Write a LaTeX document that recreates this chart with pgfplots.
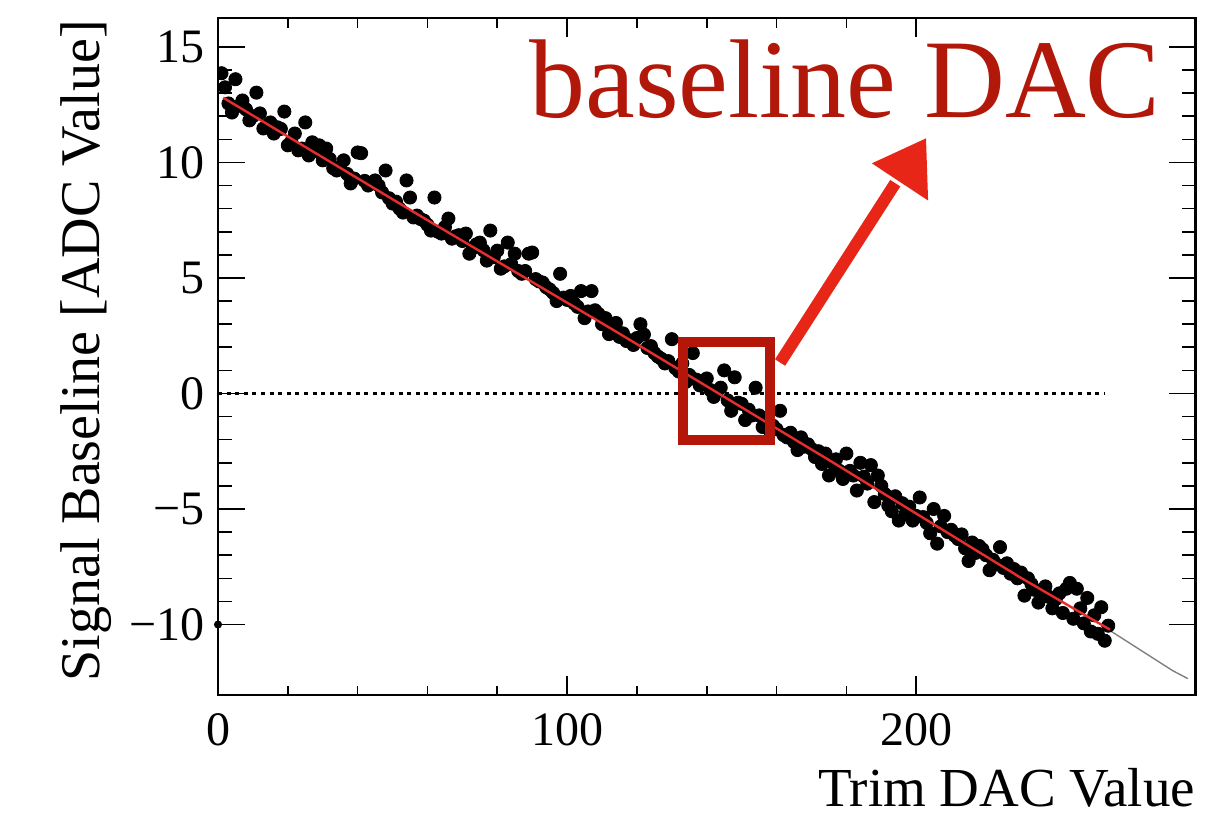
\documentclass[border=0pt]{standalone}
\usepackage{fontspec}
\setmainfont{Liberation Serif}
\usepackage{pgfplots}
\pgfplotsset{compat=1.18}
\definecolor{txtred}{RGB}{178,24,10}
\definecolor{boxred}{RGB}{180,22,10}
\definecolor{arrred}{RGB}{232,38,24}
\definecolor{fitred}{RGB}{232,45,45}
\pgfplotsset{
  rootframe/.style={
    scale only axis, width=488.75pt, height=338.5pt,
    xmin=0, xmax=280, ymin=-13.05, ymax=16.25,
    tick align=inside,
    axis line style={line width=1.1pt},
    tick style={black, line width=0.8pt},
    ticklabel style={font=\fontsize{24}{26}\selectfont},
    /pgf/number format/assume math mode=true,
  }
}
\begin{document}
\begin{tikzpicture}
% frame with y ticks (longer ticks, as in the reference)
\begin{axis}[rootframe,
  xtick=\empty,
  ytick={-10,-5,0,5,10,15}, yticklabels={−10,−5,0,5,10,15}, minor y tick num=4,
  major tick length=13.5pt, minor tick length=7pt,
  yticklabel style={anchor=east, inner sep=0pt, xshift=-6.5pt},
  clip=false,
]
\addplot[only marks, mark=*, mark size=1.8pt, black] coordinates {(0,-10)};
\end{axis}
\begin{axis}[rootframe,
  ytick=\empty,
  xtick={0,100,200}, minor x tick num=4,
  major tick length=9.5pt, minor tick length=4.75pt,
  xticklabel style={anchor=base, yshift=-25pt},
  clip marker paths=true,
]
\coordinate (ll) at (rel axis cs:0,0);
\coordinate (lr) at (rel axis cs:1,0);
\coordinate (ul) at (rel axis cs:0,1);
\coordinate (ur) at (rel axis cs:1,1);
% dotted zero line
\addplot[black, line width=1.3pt, dash pattern=on 2pt off 2.3pt] coordinates {(0,0) (254,0)};
% grey continuation line
\addplot[gray, line width=0.7pt] coordinates {(255.5,-10.26) (273.5,-12.0) (277.8,-12.34)};
% data
\addplot[only marks, mark=*, mark size=3.3pt, black] table {
x y
1 13.86
2 13.25
3 12.55
4 12.16
5 13.6
6 12.45
7 12.68
8 12.3
9 11.82
10 12.0
11 13.02
12 12.12
13 11.47
14 11.6
15 11.73
16 11.25
17 11.52
18 11.45
19 12.2
20 10.74
21 10.9
22 11.25
23 10.52
24 10.6
25 11.73
26 10.3
27 10.87
28 10.5
29 10.74
30 10.09
31 10.6
32 10.15
33 9.75
34 9.65
35 9.8
36 10.09
37 9.5
38 9.09
39 9.3
40 10.43
41 10.4
42 9.2
43 9.0
44 9.1
45 9.22
46 9.0
47 8.7
48 9.65
49 8.45
50 8.22
51 8.3
52 8.0
53 7.83
54 9.22
55 8.48
56 7.62
57 7.7
58 7.55
59 7.48
60 7.3
61 7.05
62 8.48
63 7.0
64 6.92
65 7.2
66 7.57
67 6.7
68 6.8
69 6.85
70 6.6
71 6.92
72 6.05
73 6.3
74 6.45
75 6.53
76 6.2
77 5.75
78 7.05
79 5.9
80 6.18
81 5.4
82 5.5
83 6.53
84 5.6
85 6.05
86 5.3
87 5.18
88 5.3
89 6.05
90 6.1
91 4.95
92 4.85
93 4.8
94 4.6
95 4.5
96 4.35
97 4.0
98 5.18
99 4.15
100 4.05
101 4.22
102 3.9
103 3.75
104 4.43
105 3.26
106 3.55
107 4.43
108 3.6
109 3.44
110 3.0
111 3.26
112 2.57
113 2.8
114 3.05
115 2.45
116 2.6
117 2.27
118 2.3
119 2.1
120 2.4
121 3.0
122 2.55
123 1.97
124 2.05
125 1.75
126 1.6
127 1.5
128 1.3
129 1.4
130 2.35
131 1.1
132 0.95
133 1.3
134 0.5
135 0.8
136 1.75
137 0.6
138 0.35
139 0.5
140 0.65
141 0.15
142 -0.15
143 0.1
144 0.25
145 1.0
146 -0.3
147 -0.75
148 0.7
149 -0.4
150 -0.45
151 -1.15
152 -0.7
153 -0.95
154 0.25
155 -0.95
156 -1.45
157 -1.2
158 -1.6
159 -1.4
160 -1.55
161 -0.75
162 -1.8
163 -1.9
164 -1.7
165 -2.1
166 -2.45
167 -1.9
168 -2.3
169 -2.2
170 -2.4
171 -2.75
172 -2.5
173 -3.05
174 -2.6
175 -3.55
176 -3.0
177 -2.85
178 -3.35
179 -3.7
180 -2.6
181 -3.35
182 -3.55
183 -4.2
184 -3.0
185 -3.6
186 -3.9
187 -3.1
188 -4.7
189 -3.55
190 -4.0
191 -4.35
192 -4.85
193 -5.1
194 -4.45
195 -5.5
196 -4.75
197 -5.2
198 -4.9
199 -5.5
200 -5.3
201 -4.5
202 -5.35
203 -5.6
204 -6.05
205 -5.0
206 -6.5
207 -5.75
208 -5.3
209 -6.0
210 -5.9
211 -6.15
212 -6.3
213 -6.1
214 -6.7
215 -7.25
216 -6.45
217 -6.9
218 -6.6
219 -6.75
220 -7.0
221 -7.65
222 -7.2
223 -7.4
224 -6.65
225 -7.55
226 -7.35
227 -7.8
228 -7.6
229 -8.0
230 -7.75
231 -8.75
232 -8.0
233 -8.25
234 -8.5
235 -9.05
236 -8.6
237 -8.35
238 -8.8
239 -9.3
240 -8.9
241 -8.65
242 -9.5
243 -8.45
244 -8.2
245 -9.75
246 -8.45
247 -9.3
248 -9.95
249 -8.85
250 -10.3
251 -9.6
252 -10.4
253 -9.25
254 -10.7
255 -10.05
};
% fit line
\addplot[fitred, line width=1.2pt] coordinates {(1.5,12.8) (58,7.68) (113,2.77) (175,-2.88) (230,-7.98) (255.5,-10.22)};
% annotations
\draw[boxred, line width=5pt] (axis cs:133.2,2.21) rectangle (axis cs:158.1,-2.03);
\draw[arrred, line width=6pt] (axis cs:161.0,1.34) -- (axis cs:194.0,9.1);
\fill[arrred] (axis cs:187.3,9.96) -- (axis cs:202.8,11.04) -- (axis cs:203.4,8.35) -- cycle;
\node[txtred, anchor=base, inner sep=0pt, font=\fontsize{56}{60}\selectfont] at (axis cs:179.6,11.95) {baseline DAC};
\end{axis}
\node[anchor=base east, inner sep=0pt, font=\fontsize{27.5}{30}\selectfont] at ([yshift=-55.5pt]lr) {Trim DAC Value};
\node[rotate=90, anchor=base east, inner sep=0pt, font=\fontsize{28}{30}\selectfont] at ([xshift=-59pt,yshift=-1pt]ul) {Signal Baseline [ADC Value]};
\pgfresetboundingbox
\path[use as bounding box] ([xshift=-109pt,yshift=-60pt]ll) rectangle ([xshift=16.75pt,yshift=9pt]ur);
\end{tikzpicture}
\end{document}
